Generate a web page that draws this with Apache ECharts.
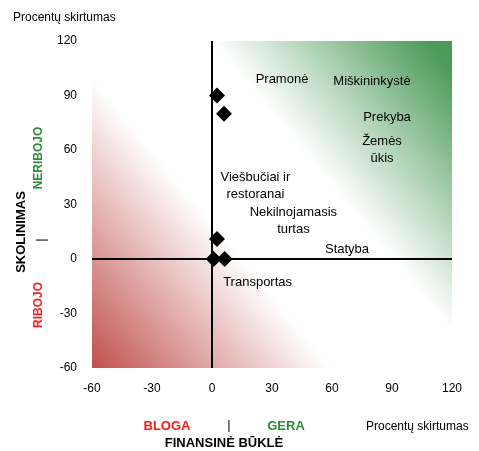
<!DOCTYPE html>
<html>
<head>
<meta charset="utf-8">
<script src="https://cdn.jsdelivr.net/npm/echarts@6/dist/echarts.min.js"></script>
<style>
  html, body { margin: 0; padding: 0; background: #fff; }
  #chart { width: 479px; height: 451px; }
</style>
</head>
<body>
<div id="chart"></div>
<script>
// Sector positions: financial condition (x) vs. lending conditions (y), percent difference
const pointsX = [2.5, 6, 2.5, 0.8, 6.3];
const pointsY = [90, 80, 11, 0, 0];

// Sector names placed on the chart (data coordinates of each text block centre)
const sectorNames = ['Pramonė', 'Miškininkystė', 'Prekyba', 'Žemės\nūkis',
  'Viešbučiai ir\nrestoranai', 'Nekilnojamasis\nturtas', 'Statyba', 'Transportas'];
const sectorX = [35, 80, 87.5, 85, 21.7, 40.7, 67.5, 22.8];
const sectorY = [98.6, 97.8, 77.7, 60.3, 40.4, 21.2, 5, -12.8];

// Axis ranges and ticks
const axisMin = -60;
const axisMax = 120;
const axisStep = 30;

const FONT = '"Liberation Sans", Arial, sans-serif';

const chart = echarts.init(document.getElementById('chart'), null, { renderer: 'canvas' });

const axisCommon = {
  type: 'value',
  min: axisMin,
  max: axisMax,
  interval: axisStep,
  axisLine: { show: false },
  axisTick: { show: false },
  splitLine: { show: false },
  axisLabel: { color: '#000', fontFamily: FONT, fontSize: 12, margin: 15 }
};

chart.setOption({
  animation: false,
  backgroundColor: '#fff',
  grid: { left: 92, right: 27, top: 41, bottom: 83, containLabel: false },
  xAxis: axisCommon,
  yAxis: axisCommon,
  graphic: [
    { type: 'text', left: 13, top: 12, style: { text: 'Procentų skirtumas', font: '12px ' + FONT, fill: '#000' } },
    { type: 'text', left: 366, top: 421, style: { text: 'Procentų skirtumas', font: '12px ' + FONT, fill: '#000' } },
    { type: 'text', x: 167, y: 426, style: { text: 'BLOGA', font: 'bold 13px ' + FONT, fill: '#ff1a1a', align: 'center', verticalAlign: 'middle' } },
    { type: 'text', x: 229, y: 425, style: { text: '|', font: '13px ' + FONT, fill: '#000', align: 'center', verticalAlign: 'middle' } },
    { type: 'text', x: 286, y: 426, style: { text: 'GERA', font: 'bold 13px ' + FONT, fill: '#2e8b3a', align: 'center', verticalAlign: 'middle' } },
    { type: 'text', x: 224, y: 443, style: { text: 'FINANSINĖ BŪKLĖ', font: 'bold 13px ' + FONT, fill: '#000', align: 'center', verticalAlign: 'middle' } },
    { type: 'text', x: 21, y: 232, rotation: Math.PI / 2, style: { text: 'SKOLINIMAS', font: 'bold 13px ' + FONT, fill: '#000', align: 'center', verticalAlign: 'middle' } },
    { type: 'text', x: 39, y: 158, rotation: Math.PI / 2, style: { text: 'NERIBOJO', font: 'bold 12px ' + FONT, fill: '#2e8b3a', align: 'center', verticalAlign: 'middle' } },
    { type: 'text', x: 41, y: 240, rotation: Math.PI / 2, style: { text: '|', font: '13px ' + FONT, fill: '#000', align: 'center', verticalAlign: 'middle' } },
    { type: 'text', x: 39, y: 305, rotation: Math.PI / 2, style: { text: 'RIBOJO', font: 'bold 12px ' + FONT, fill: '#ff1a1a', align: 'center', verticalAlign: 'middle' } }
  ],
  series: [
    {
      type: 'scatter',
      name: 'sektoriai',
      symbol: 'diamond',
      symbolSize: 16,
      itemStyle: { color: '#000', opacity: 1 },
      z: 5,
      data: pointsX.map((x, i) => [x, pointsY[i]]),
      markArea: {
        silent: true,
        z: 0,
        itemStyle: {
          opacity: 1,
          color: {
            type: 'linear', x: 0, y: 1, x2: 1, y2: 0.093,
            colorStops: [
              { offset: 0, color: '#c0504d' },
              { offset: 0.397, color: '#ffffff' },
              { offset: 0.645, color: '#ffffff' },
              { offset: 1, color: '#4c9b59' }
            ]
          }
        },
        data: [[{ coord: [axisMin, axisMin] }, { coord: [axisMax, axisMax] }]]
      },
      markLine: {
        silent: true,
        symbol: 'none',
        label: { show: false },
        lineStyle: { color: '#000', width: 2, type: 'solid', opacity: 1 },
        data: [{ xAxis: 0 }, { yAxis: 0 }]
      }
    },
    {
      type: 'scatter',
      name: 'pavadinimai',
      symbolSize: 1,
      itemStyle: { color: 'rgba(0,0,0,0)', opacity: 1 },
      silent: true,
      z: 4,
      data: sectorNames.map((n, i) => ({ name: n, value: [sectorX[i], sectorY[i]] })),
      label: {
        show: true,
        position: 'inside',
        formatter: p => p.name,
        color: '#000',
        opacity: 1,
        fontFamily: FONT,
        fontSize: 13,
        lineHeight: 17,
        align: 'center',
        verticalAlign: 'middle'
      }
    }
  ]
});
</script>
</body>
</html>
